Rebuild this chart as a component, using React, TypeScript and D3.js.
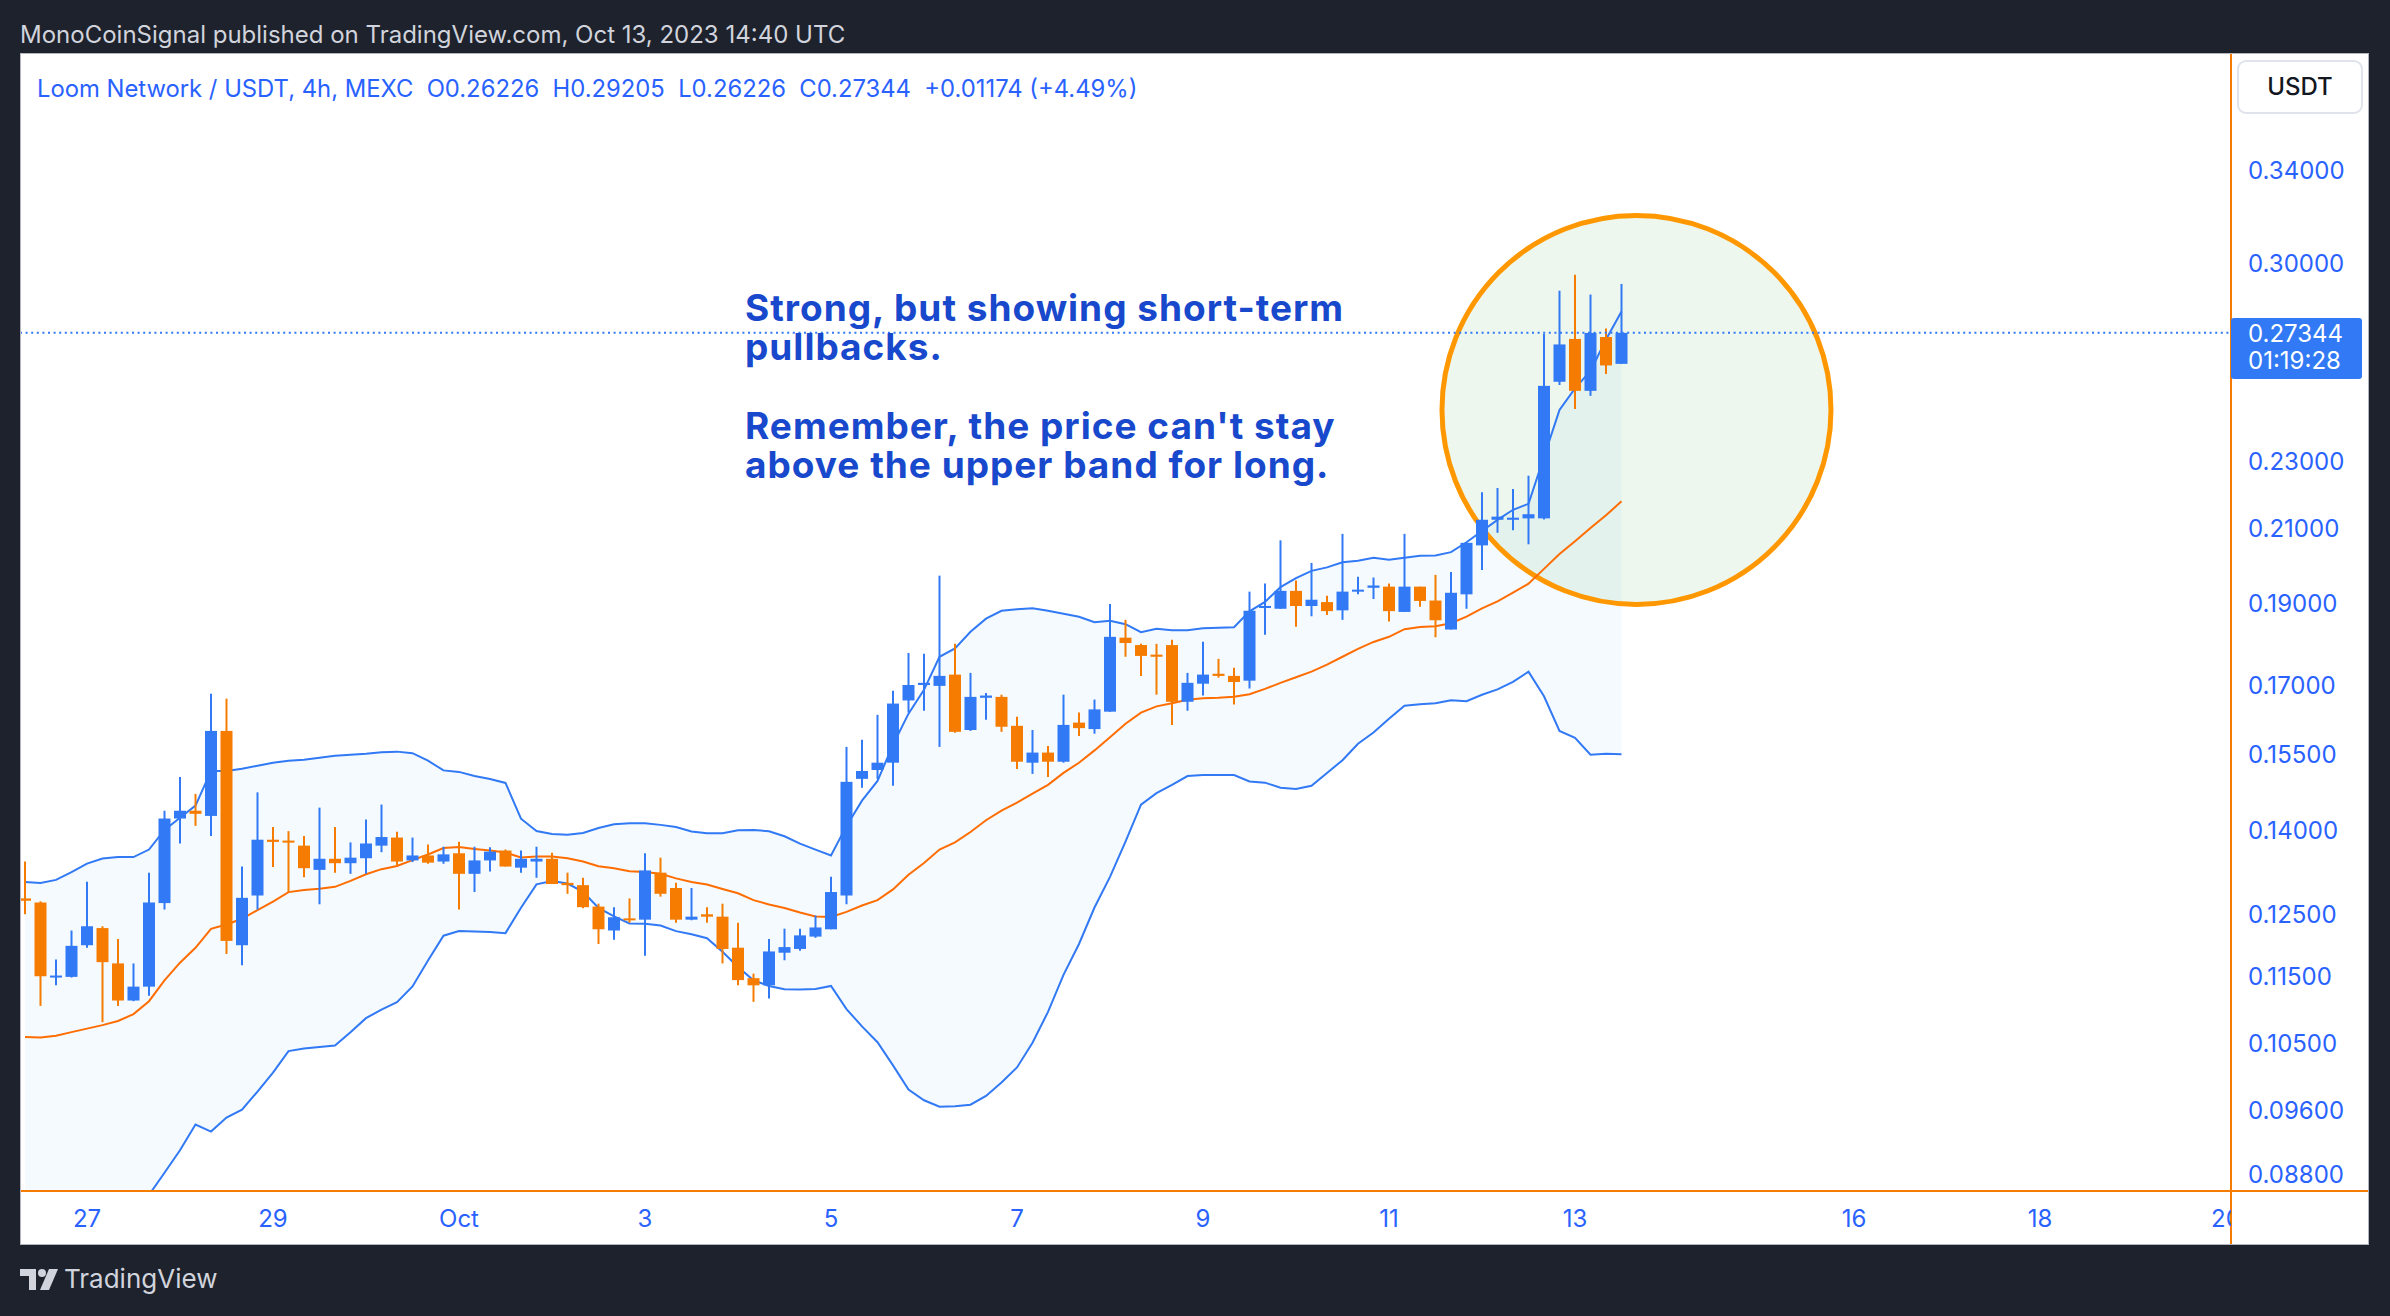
import React, { useEffect } from 'react';
import * as d3 from 'd3';

const W = 2390;
const H = 1316;

// 4h bars, first visible bar: 26 Sep 2023 08:00 UTC
const START_UTC = Date.UTC(2023, 8, 26, 8);
const BAR_MS = 4 * 3600 * 1000;

const opens = [
  0.1277, 0.1270, 0.1148, 0.1149, 0.1199, 0.1227, 0.1170, 0.1113, 0.1134, 0.1269,
  0.1422, 0.1437, 0.1427, 0.1600, 0.1199, 0.1282, 0.1382, 0.1380, 0.1371, 0.1327,
  0.1347, 0.1339, 0.1348, 0.1371, 0.1386, 0.1344, 0.1353, 0.1342, 0.1357, 0.1320,
  0.1344, 0.1362, 0.1331, 0.1342, 0.1347, 0.1304, 0.1300, 0.1263, 0.1223, 0.1243,
  0.1241, 0.1322, 0.1295, 0.1241, 0.1250, 0.1246, 0.1195, 0.1147, 0.1136, 0.1187,
  0.1193, 0.1213, 0.1225, 0.1282, 0.1500, 0.1518, 0.1533, 0.1667, 0.1702, 0.1700,
  0.1726, 0.1602, 0.1673, 0.1675, 0.1611, 0.1533, 0.1554, 0.1535, 0.1618, 0.1604,
  0.1642, 0.1814, 0.1796, 0.1773, 0.1796, 0.1664, 0.1705, 0.1728, 0.1723, 0.1712,
  0.1888, 0.1886, 0.1932, 0.1893, 0.1903, 0.1882, 0.1930, 0.1940, 0.1943, 0.1878,
  0.1943, 0.1907, 0.1834, 0.1923, 0.2054, 0.2126, 0.2126, 0.2130, 0.2130, 0.2560,
  0.2712, 0.2529, 0.2719, 0.26226,
];
const highs = [
  0.1342, 0.1272, 0.1176, 0.1223, 0.1306, 0.1230, 0.1209, 0.1170, 0.1322, 0.1437,
  0.1504, 0.1470, 0.1682, 0.1671, 0.1333, 0.1473, 0.1406, 0.1398, 0.1389, 0.1443,
  0.1406, 0.1377, 0.1420, 0.1449, 0.1397, 0.1386, 0.1373, 0.1369, 0.1378, 0.1369,
  0.1368, 0.1364, 0.1362, 0.1369, 0.1358, 0.1322, 0.1313, 0.1268, 0.1262, 0.1277,
  0.1357, 0.1349, 0.1304, 0.1295, 0.1262, 0.1268, 0.1236, 0.1154, 0.1209, 0.1226,
  0.1226, 0.1248, 0.1315, 0.1566, 0.1581, 0.1635, 0.1689, 0.1777, 0.1775, 0.1972,
  0.1799, 0.1730, 0.1684, 0.1680, 0.1631, 0.1602, 0.1568, 0.1680, 0.1640, 0.1669,
  0.1898, 0.1858, 0.1799, 0.1799, 0.1809, 0.1730, 0.1804, 0.1763, 0.1742, 0.1930,
  0.1951, 0.2068, 0.1959, 0.2006, 0.1919, 0.2086, 0.1969, 0.1967, 0.1951, 0.2086,
  0.1943, 0.1974, 0.1982, 0.2061, 0.2206, 0.2219, 0.2216, 0.2256, 0.2730, 0.2894,
  0.2957, 0.2879, 0.2750, 0.29205,
];
const lows = [
  0.1250, 0.1105, 0.1136, 0.1148, 0.1195, 0.1081, 0.1105, 0.1112, 0.1120, 0.1258,
  0.1375, 0.1408, 0.1389, 0.1185, 0.1167, 0.1258, 0.1332, 0.1288, 0.1314, 0.1267,
  0.1322, 0.1320, 0.1320, 0.1359, 0.1335, 0.1341, 0.1338, 0.1338, 0.1258, 0.1288,
  0.1324, 0.1333, 0.1322, 0.1313, 0.1302, 0.1285, 0.1260, 0.1201, 0.1208, 0.1236,
  0.1182, 0.1280, 0.1236, 0.1240, 0.1236, 0.1170, 0.1136, 0.1111, 0.1116, 0.1175,
  0.1190, 0.1211, 0.1225, 0.1267, 0.1482, 0.1500, 0.1486, 0.1640, 0.1644, 0.1566,
  0.1596, 0.1600, 0.1624, 0.1598, 0.1520, 0.1510, 0.1504, 0.1533, 0.1589, 0.1594,
  0.1642, 0.1768, 0.1723, 0.1680, 0.1613, 0.1644, 0.1678, 0.1719, 0.1658, 0.1694,
  0.1821, 0.1886, 0.1841, 0.1867, 0.1870, 0.1858, 0.1923, 0.1911, 0.1854, 0.1878,
  0.1891, 0.1815, 0.1834, 0.1886, 0.1987, 0.2089, 0.2096, 0.2057, 0.2127, 0.2549,
  0.2468, 0.2512, 0.2587, 0.26226,
];
const closes = [
  0.1273, 0.1150, 0.1151, 0.1198, 0.1230, 0.1172, 0.1113, 0.1134, 0.1270, 0.1422,
  0.1437, 0.1431, 0.1600, 0.1206, 0.1278, 0.1382, 0.1378, 0.1377, 0.1330, 0.1347,
  0.1339, 0.1349, 0.1375, 0.1387, 0.1342, 0.1353, 0.1340, 0.1355, 0.1320, 0.1344,
  0.1360, 0.1333, 0.1347, 0.1347, 0.1302, 0.1300, 0.1262, 0.1225, 0.1245, 0.1240,
  0.1326, 0.1285, 0.1241, 0.1246, 0.1246, 0.1193, 0.1144, 0.1136, 0.1189, 0.1196,
  0.1215, 0.1228, 0.1288, 0.1494, 0.1516, 0.1533, 0.1660, 0.1702, 0.1707, 0.1723,
  0.1598, 0.1675, 0.1678, 0.1609, 0.1535, 0.1554, 0.1535, 0.1613, 0.1606, 0.1647,
  0.1816, 0.1801, 0.1770, 0.1768, 0.1664, 0.1707, 0.1726, 0.1723, 0.1709, 0.1881,
  0.1893, 0.1932, 0.1893, 0.1909, 0.1880, 0.1930, 0.1935, 0.1946, 0.1880, 0.1943,
  0.1906, 0.1857, 0.1927, 0.2061, 0.2126, 0.2135, 0.2132, 0.2142, 0.2546, 0.2692,
  0.2529, 0.2734, 0.2617, 0.27344,
];

// Bollinger Bands (20, 2)
const bbUpper = [
  0.13055, 0.13037, 0.13092, 0.13228, 0.13383, 0.13474, 0.13501, 0.13501, 0.13638, 0.14002,
  0.14236, 0.1447, 0.15162, 0.15162, 0.15204, 0.15266, 0.15329, 0.15371, 0.15392, 0.15434,
  0.15476, 0.15497, 0.15518, 0.15549, 0.1556, 0.15528, 0.15371, 0.15172, 0.15141, 0.15057,
  0.14996, 0.14918, 0.14216, 0.13984, 0.13929, 0.13911, 0.13947, 0.14041, 0.14109, 0.14128,
  0.14128, 0.14099, 0.1406, 0.13975, 0.13942, 0.13942, 0.13996, 0.14002, 0.13978, 0.13884,
  0.13747, 0.13638, 0.13529, 0.1408, 0.14567, 0.14957, 0.15705, 0.16376, 0.16909, 0.1768,
  0.1788, 0.18285, 0.18609, 0.18808, 0.18846, 0.18873, 0.18808, 0.18734, 0.18659, 0.18522,
  0.18559, 0.18472, 0.18273, 0.1836, 0.18325, 0.18325, 0.1837, 0.18385, 0.18397, 0.18796,
  0.19036, 0.19416, 0.19652, 0.19848, 0.1994, 0.20076, 0.20117, 0.202, 0.20145, 0.202,
  0.20255, 0.20263, 0.20354, 0.20626, 0.20942, 0.21258, 0.21548, 0.21722, 0.23137, 0.2465,
  0.25374, 0.25976, 0.271, 0.28143,
];
const bbBasis = [
  0.10595, 0.10591, 0.10616, 0.10666, 0.10717, 0.10767, 0.10828, 0.10928, 0.1112, 0.11436,
  0.11712, 0.11949, 0.12257, 0.1233, 0.12425, 0.1257, 0.12716, 0.12879, 0.12914, 0.12936,
  0.12971, 0.13074, 0.13192, 0.13283, 0.13339, 0.13445, 0.13547, 0.13665, 0.13683, 0.1365,
  0.1362, 0.13583, 0.13492, 0.1351, 0.1351, 0.13479, 0.13419, 0.13334, 0.13301, 0.13247,
  0.13232, 0.13201, 0.13119, 0.13055, 0.1301, 0.12934, 0.12859, 0.12741, 0.12666, 0.12607,
  0.12531, 0.12464, 0.12456, 0.1254, 0.12649, 0.12741, 0.12926, 0.13183, 0.13392, 0.13638,
  0.13771, 0.13965, 0.14187, 0.14372, 0.14528, 0.14704, 0.14879, 0.1512, 0.15329, 0.15586,
  0.15866, 0.16154, 0.16398, 0.16538, 0.16609, 0.16687, 0.1672, 0.16731, 0.16754, 0.16809,
  0.16931, 0.17069, 0.17199, 0.17328, 0.17492, 0.1768, 0.17868, 0.18036, 0.18161, 0.18348,
  0.18402, 0.18422, 0.18497, 0.18659, 0.18871, 0.19049, 0.19272, 0.19507, 0.199, 0.2030,
  0.20654, 0.21026, 0.21388, 0.21794,
];
const bbLower = [
  0.0814, 0.0815, 0.0814, 0.0810, 0.0805, 0.0806, 0.0816, 0.0836, 0.08567, 0.08827,
  0.09098, 0.09418, 0.0933, 0.09507, 0.0961, 0.09846, 0.1010, 0.10397, 0.10435, 0.10456,
  0.10477, 0.10664, 0.10869, 0.10996, 0.11106, 0.11343, 0.11746, 0.12145, 0.12222, 0.12212,
  0.12204, 0.12187, 0.1261, 0.13014, 0.13074, 0.13028, 0.12884, 0.12607, 0.12464, 0.12346,
  0.12341, 0.12313, 0.1222, 0.1217, 0.12103, 0.11885, 0.11645, 0.11436, 0.11351, 0.11299,
  0.11296, 0.11304, 0.11351, 0.11002, 0.10749, 0.10523, 0.10199, 0.09872, 0.09731, 0.09648,
  0.09654, 0.09674, 0.09789, 0.09968, 0.10171, 0.10514, 0.10961, 0.11521, 0.1201, 0.12615,
  0.13146, 0.13783, 0.14489, 0.14713, 0.14879, 0.15057, 0.15078, 0.15078, 0.15078, 0.14947,
  0.14924, 0.14821, 0.14795, 0.1486, 0.1512, 0.15381, 0.15726, 0.15967, 0.16265, 0.16554,
  0.16587, 0.16609, 0.16676, 0.16654, 0.16798, 0.1692, 0.17093, 0.17328, 0.16765, 0.15998,
  0.15852, 0.15496, 0.15517, 0.15507,
];

// visible price-scale labels (the 0.26000 label sits hidden under the last-price tag)
const priceTicks = [0.34, 0.30, 0.23, 0.21, 0.19, 0.17, 0.155, 0.14, 0.125, 0.115, 0.105, 0.096, 0.088];
const dateTicks: [number, number, string][] = [
  [8, 27, '27'], [8, 29, '29'], [9, 1, 'Oct'], [9, 3, '3'], [9, 5, '5'], [9, 7, '7'],
  [9, 9, '9'], [9, 11, '11'], [9, 13, '13'], [9, 16, '16'], [9, 18, '18'], [9, 20, '20'],
];

const lastPrice = 0.27344;
const countdown = '01:19:28';
const titleText = 'MonoCoinSignal published on TradingView.com, Oct 13, 2023 14:40 UTC';
const legendText = 'Loom Network / USDT, 4h, MEXC  O0.26226  H0.29205  L0.26226  C0.27344  +0.01174 (+4.49%)';
const noteLines = [
  'Strong, but showing short-term',
  'pullbacks.',
  '',
  "Remember, the price can't stay",
  'above the upper band for long.',
];
// ellipse drawing anchored in time/price space
const circleTime = Date.UTC(2023, 9, 13, 15, 52);
const circlePrice = 0.2465;
const circleRadius = 194.5;

const UP = '#3179f5';
const DOWN = '#f57c00';
const AXIS_ORANGE = '#f57c00';
const TEXT_BLUE = '#2962ff';
const FONT = "Inter, 'Noto Sans', 'DejaVu Sans', sans-serif";

export default function App() {
  useEffect(() => {
    document.body.style.margin = '0';
    document.body.style.background = '#1e222d';
  }, []);

  const panelL = 20, panelR = 2369, panelT = 53, panelB = 1245;
  const plotR = 2231, plotB = 1191;

  const x = d3.scaleUtc()
    .domain([new Date(Date.UTC(2023, 8, 27)), new Date(Date.UTC(2023, 9, 13))])
    .range([87, 1575]);
  const y = d3.scaleLog().domain([0.088, 0.34]).range([1175, 171]);

  const times = closes.map((_, i) => new Date(START_UTC + i * BAR_MS));
  const bodyW = 12;

  const lineGen = d3.line<number>().x((_, i) => x(times[i])).y((d) => y(d));
  const areaGen = d3.area<number>()
    .x((_, i) => x(times[i]))
    .y0((_, i) => y(bbLower[i]))
    .y1((d) => y(d));

  const ccx = x(new Date(circleTime));
  const ccy = y(circlePrice);

  return (
    <div style={{ position: 'absolute', left: 0, top: 0, width: W, height: H }}>
      <svg width={W} height={H} viewBox={`0 0 ${W} ${H}`} style={{ display: 'block' }} fontFamily={FONT}>
        <defs>
          <clipPath id="plotClip">
            <rect x={panelL} y={panelT} width={plotR - panelL} height={plotB - panelT} />
          </clipPath>
          <clipPath id="dateClip">
            <rect x={panelL} y={plotB} width={plotR - panelL} height={panelB - plotB} />
          </clipPath>
        </defs>
        <rect x={0} y={0} width={W} height={H} fill="#1e222d" />
        <text x={20} y={43} fontSize={24} fill="#d1d4dc">{titleText}</text>

        <rect x={panelL} y={panelT} width={panelR - panelL} height={panelB - panelT} fill="#ffffff" />

        <g clipPath="url(#plotClip)">
          <path d={areaGen(bbUpper) || ''} fill="rgba(33,150,243,0.05)" />
          <circle cx={ccx} cy={ccy} r={circleRadius} fill="rgba(76,175,80,0.1)" stroke="#ff9800" strokeWidth={5} />
          <path d={lineGen(bbUpper) || ''} fill="none" stroke={UP} strokeWidth={2} />
          <path d={lineGen(bbLower) || ''} fill="none" stroke={UP} strokeWidth={2} />
          <path d={lineGen(bbBasis) || ''} fill="none" stroke="#ff6d00" strokeWidth={2} />
          {closes.map((c, i) => {
            const o = opens[i];
            const col = c >= o ? UP : DOWN;
            const cx = x(times[i]);
            const top = y(Math.max(o, c));
            const bot = y(Math.min(o, c));
            const h = Math.max(2, bot - top);
            return (
              <g key={i}>
                <line x1={cx} x2={cx} y1={y(highs[i])} y2={y(lows[i])} stroke={col} strokeWidth={2} />
                <rect x={cx - bodyW / 2} y={h === 2 ? (top + bot) / 2 - 1 : top} width={bodyW} height={h} fill={col} />
              </g>
            );
          })}
          <line x1={panelL} x2={plotR} y1={y(lastPrice)} y2={y(lastPrice)} stroke={UP} strokeWidth={2} strokeDasharray="2 3.6" />
        </g>

        <text fontSize={37} fontWeight={700} fill="#1848cc" letterSpacing={1}>
          {noteLines.map((t, i) => (
            <tspan key={i} x={745} y={321 + i * 39.2}>{t}</tspan>
          ))}
        </text>

        <text x={37} y={97} fontSize={23.8} fill={TEXT_BLUE} style={{ whiteSpace: 'pre' }}>{legendText}</text>

        {/* axis borders */}
        <line x1={panelL} x2={panelR} y1={plotB} y2={plotB} stroke={AXIS_ORANGE} strokeWidth={2} />
        <line x1={plotR} x2={plotR} y1={panelT} y2={panelB} stroke={AXIS_ORANGE} strokeWidth={2} />

        {/* price scale */}
        {priceTicks.map((p) => (
          <text key={p} x={2248} y={y(p)} dy="0.35em" fontSize={24} fill={TEXT_BLUE}>{p.toFixed(5)}</text>
        ))}
        <rect x={2238} y={61} width={124} height={52} rx={8} fill="#ffffff" stroke="#e0e3eb" strokeWidth={2} />
        <text x={2300} y={87} dy="0.35em" textAnchor="middle" fontSize={24} fontWeight={500} fill="#131722">USDT</text>
        <rect x={plotR} y={318} width={131} height={61} rx={3} fill={UP} />
        <text x={2248} y={y(lastPrice) + 1} dy="0.35em" fontSize={24} fill="#ffffff">{lastPrice.toFixed(5)}</text>
        <text x={2248} y={361} dy="0.35em" fontSize={24} fill="#ffffff">{countdown}</text>

        {/* time scale */}
        <g clipPath="url(#dateClip)">
          {dateTicks.map(([m, d, lab]) => (
            <text key={lab} x={x(new Date(Date.UTC(2023, m, d)))} y={1219} dy="0.35em" textAnchor="middle" fontSize={24} fill={TEXT_BLUE}>{lab}</text>
          ))}
        </g>
        <rect x={panelL + 0.5} y={panelT + 0.5} width={panelR - panelL - 1} height={panelB - panelT - 1} fill="none" stroke="#b2b5be" strokeWidth={1} />

        {/* footer logo */}
        <g fill="#d1d4dc">
          <path d="M20 1269 h16 v21 h-7 v-14 h-9 z" />
          <circle cx={42} cy={1273} r={4} />
          <path d="M49 1269 h9 l-9 21 h-9 z" />
        </g>
        <text x={64} y={1288} fontSize={26} fill="#d1d4dc">TradingView</text>
      </svg>
    </div>
  );
}
